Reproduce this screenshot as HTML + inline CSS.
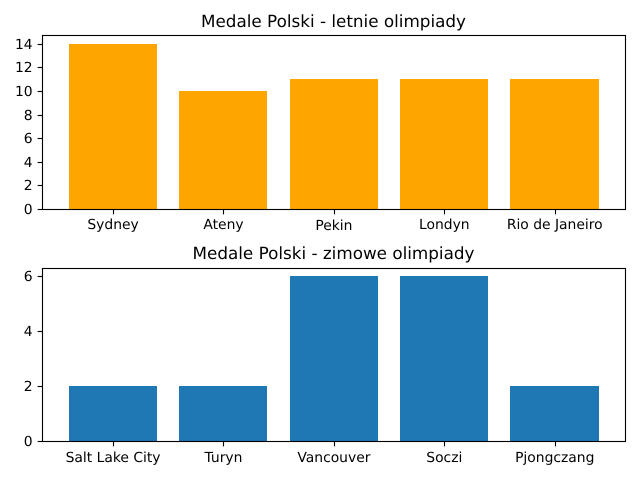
<!DOCTYPE html>
<html lang="pl">
<head>
<meta charset="utf-8">
<title>Medale Polski</title>
<style>
html,body{margin:0;padding:0;background:#fff;width:640px;height:480px;overflow:hidden}
svg{display:block}
text{font-family:"DejaVu Sans",sans-serif;fill:#000;text-rendering:geometricPrecision}
</style>
</head>
<body>
<svg id="chart" xmlns="http://www.w3.org/2000/svg" width="640" height="480" viewBox="0 0 640 480"></svg>
<script>
const summerCities = ["Sydney", "Ateny", "Pekin", "Londyn", "Rio de Janeiro"];
const summerMedals = [14, 10, 11, 11, 11];
const summerTicks = [0, 2, 4, 6, 8, 10, 12, 14];
const winterCities = ["Salt Lake City", "Turyn", "Vancouver", "Soczi", "Pjongczang"];
const winterMedals = [2, 2, 6, 6, 2];
const winterTicks = [0, 2, 4, 6];
const summerTitle = "Medale Polski - letnie olimpiady";
const winterTitle = "Medale Polski - zimowe olimpiady";

const NS = "http://www.w3.org/2000/svg";
const svg = document.getElementById("chart");

function make(parent, tag, attrs, text) {
  const el = document.createElementNS(NS, tag);
  for (const k in attrs) el.setAttribute(k, attrs[k]);
  if (text !== undefined) el.textContent = text;
  parent.appendChild(el);
  return el;
}

function drawPanel(key, box, title, cities, values, ticks, color) {
  const n = cities.length;
  const maxV = Math.max(...values);
  const barW = 0.8;
  const xMin = -barW / 2 - 0.05 * (n - 1 + barW);
  const xMax = n - 1 + barW / 2 + 0.05 * (n - 1 + barW);
  const yMax = maxV * 1.05;
  const xScale = v => box.left + (v - xMin) / (xMax - xMin) * (box.right - box.left);
  const yScale = v => box.bottom - v / yMax * (box.bottom - box.top);

  const g = make(svg, "g", {});
  
  

  values.forEach((v, i) => {
    const x0 = Math.round(xScale(i - barW / 2)), x1 = Math.round(xScale(i + barW / 2));
    const y = Math.round(yScale(v));
    const y0 = Math.round(yScale(0));
    const bar = make(g, "rect", {x: x0, y: y, width: x1 - x0, height: y0 - y, fill: color});
    
    
  });

  ticks.forEach(t => {
    const y = Math.round(yScale(t)) + 0.5;
    const tick = make(g, "line", {x1: box.frameLeft - 4.86, x2: box.frameLeft, y1: y, y2: y, stroke: "#000", "stroke-width": 1.11});
    
    
    const label = make(g, "text", {x: box.left - 9.6, y: Math.round(yScale(t)) + 5, "text-anchor": "end", "font-size": 13.89}, t);
    
    
  });

  cities.forEach((c, i) => {
    const x = xScale(i);
    const tx = Math.round(x) + 0.5;
    const tick = make(g, "line", {x1: tx, x2: tx, y1: box.frameBottom, y2: box.frameBottom + 4.86, stroke: "#000", "stroke-width": 1.11});
    
    
    const shift = /[gjpqyJ]/.test(c) ? 0 : box.flatLabelShift;
    const label = make(g, "text", {x: x + 0.2, y: box.labelBaseline + shift, "text-anchor": "middle", "font-size": 13.89}, c);
    
    
  });

  const frame = make(g, "rect", {x: box.frameLeft, y: box.frameTop, width: box.frameRight - box.frameLeft, height: box.frameBottom - box.frameTop, fill: "none", stroke: "#000", "stroke-width": 1.11});
  
  

  const head = make(g, "text", {x: (box.left + box.right) / 2 - 0.2, y: box.titleBaseline, "text-anchor": "middle", "font-size": 16.8}, title);
  
  
}

drawPanel("summer", {left: 42.2, right: 625.2, top: 35.5, bottom: 209, frameLeft: 42.5, frameRight: 625.5, frameTop: 35.5, frameBottom: 209.5, labelBaseline: 229, flatLabelShift: 1, titleBaseline: 27}, summerTitle, summerCities, summerMedals, summerTicks, "#ffa500");
drawPanel("winter", {left: 42.2, right: 625.2, top: 268, bottom: 441, frameLeft: 42.5, frameRight: 625.5, frameTop: 268.5, frameBottom: 441.5, labelBaseline: 462, flatLabelShift: 0, titleBaseline: 259}, winterTitle, winterCities, winterMedals, winterTicks, "#1f77b4");
</script>
</body>
</html>
